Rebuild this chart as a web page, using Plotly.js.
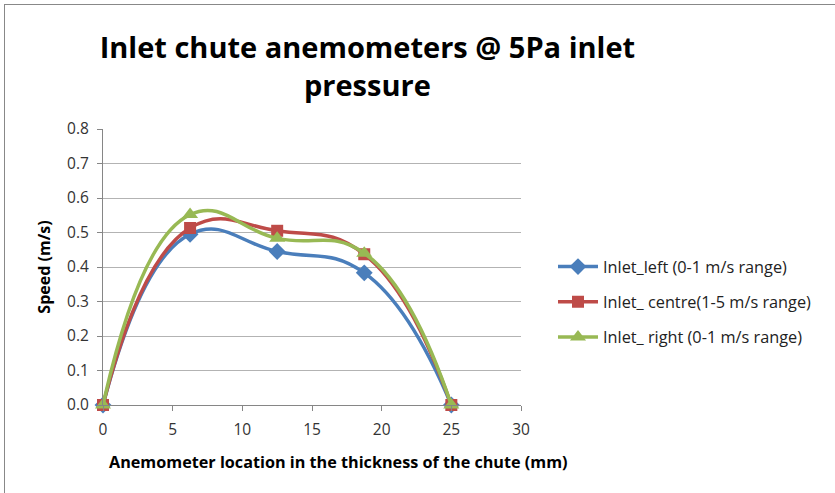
<!DOCTYPE html>
<html>
<head>
<meta charset="utf-8">
<script src="https://cdn.plot.ly/plotly-3.0.1.min.js"></script>
<style>
html,body{margin:0;padding:0;background:#fff;}
#chart{width:835px;height:493px;}
#frame{position:absolute;left:4px;top:4px;width:900px;height:600px;border-left:1px solid #888;border-top:1px solid #888;pointer-events:none;}
</style>
</head>
<body>
<div id="chart"></div>
<div id="frame"></div>
<script>
var positions = [0, 6.25, 12.5, 18.75, 25];
var seriesNames = ["Inlet_left (0-1 m/s range)", "Inlet_ centre(1-5 m/s range)", "Inlet_ right (0-1 m/s range)"];
var inletLeft = [0, 0.495, 0.445, 0.383, 0];
var inletCentre = [0, 0.513, 0.505, 0.437, 0];
var inletRight = [0, 0.552, 0.483, 0.440, 0];
var xTicks = [0, 5, 10, 15, 20, 25, 30];
var yTicks = [0, 0.1, 0.2, 0.3, 0.4, 0.5, 0.6, 0.7, 0.8];
var xTitle = "Anemometer location in the thickness of the chute (mm)";
var yTitle = "Speed (m/s)";

var font = "Open Sans, Noto Sans, sans-serif";
function tr(y, name, color, symbol, size, g) {
  return {
    x: positions, y: y, name: name, type: "scatter", mode: "lines+markers",
    legendgroup: g, cliponaxis: false,
    line: {color: color, width: 3.5, shape: "spline", smoothing: 1.3},
    marker: {color: color, symbol: symbol, size: size}
  };
}
var data = [
  tr(inletLeft, seriesNames[0], "#4a7ebb", "diamond", 13, "a"),
  tr(inletCentre, seriesNames[1], "#be4b48", "square", 12, "b"),
  tr(inletRight, seriesNames[2], "#98b954", "triangle-up", 14, "c")
];
var layout = {
  width: 835, height: 493,
  margin: {l: 103, r: 314, t: 129, b: 88},
  paper_bgcolor: "#fff", plot_bgcolor: "#fff",
  font: {family: font, size: 15, color: "#333"},
  title: {
    text: "<b>Inlet chute anemometers @ 5Pa inlet<br>pressure</b>",
    font: {family: font, size: 29, color: "#000"},
    x: 0.44, xanchor: "center", xref: "container",
    y: 1 - 58 / 493, yanchor: "middle", yref: "container"
  },
  xaxis: {
    range: [0, 30], tickvals: xTicks, ticktext: xTicks.map(String),
    showgrid: false, zeroline: false,
    showline: true, linecolor: "#868686", linewidth: 1,
    ticks: "outside", ticklen: 5, tickcolor: "#868686",
    ticklabelstandoff: 5,
    tickfont: {family: font, size: 15.5, color: "#333"}
  },
  yaxis: {
    range: [0, 0.8], tickvals: yTicks, ticktext: yTicks.map(function(v){return v.toFixed(1);}),
    showgrid: true, gridcolor: "#b3b3b3", gridwidth: 1, zeroline: false,
    showline: true, linecolor: "#868686", linewidth: 1,
    ticks: "outside", ticklen: 5, tickcolor: "#868686",
    ticklabelstandoff: 5,
    tickfont: {family: font, size: 15.5, color: "#333"},
    title: {text: "<b>" + yTitle + "</b>", font: {family: font, size: 16, color: "#000"}, standoff: 12}
  },
  annotations: [{
    text: "<b>" + xTitle + "</b>", showarrow: false,
    xref: "paper", yref: "paper",
    x: (338 - 103) / 418, y: -(462 - 405) / 276,
    xanchor: "center", yanchor: "middle",
    font: {family: font, size: 16.2, color: "#000"}
  }],
  legend: {
    x: (553 - 103) / 418, xref: "paper", y: (405 - 302) / 276, yanchor: "middle",
    font: {family: font, size: 16.3, color: "#222"},
    traceorder: "grouped", tracegroupgap: 11, itemwidth: 40
  },
  showlegend: true
};
Plotly.newPlot("chart", data, layout, {staticPlot: true});
</script>
</body>
</html>
